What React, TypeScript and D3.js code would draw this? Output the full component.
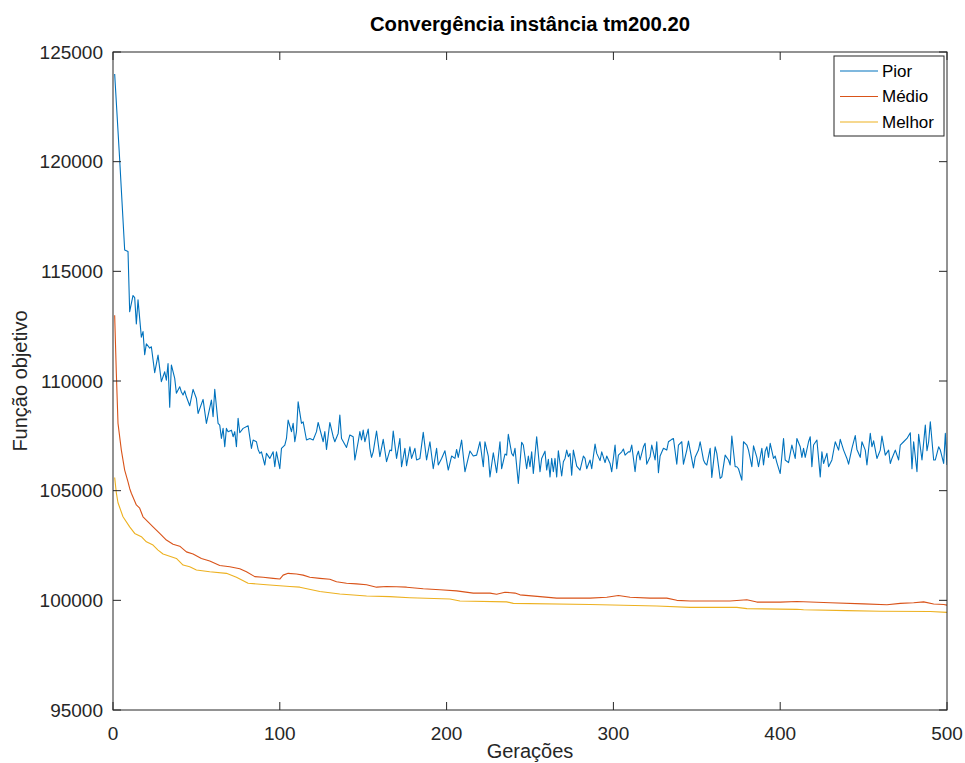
import React from "react";
import * as d3 from "d3";

// values in thousands (×1000 = função objetivo)
const pior: [number, number][] = [
  [1,124.0],[4,120.1],[7,115.97],[9,115.9],[10,113.16],[12,113.9],[13,113.8],[14,112.6],[15,113.7],[17,112.0],[18,112.25],[19,111.2],[20,111.7],[22,111.5],[23,111.56],[25,110.38],[27,111.18],[29,109.97],[31,110.42],[32,110.04],[33,110.8],[34,108.8],[35,110.73],[37,110.12],[38,109.44],[40,109.74],[41,109.5],[42,109.36],[43,109.55],[44,109.28],[46,108.87],[48,109.62],[50,109.2],[51,108.52],[54,109.16],[56,108.07],[59,109.13],[60,108.37],[61,109.62],[63,108.07],[64,107.99],[65,107.38],[66,107.84],[67,107.0],[68,107.84],[69,107.69],[71,107.76],[72,107.46],[73,107.69],[74,107.0],[75,108.3],[76,107.64],[78,107.84],[81,107.96],[83,106.93],[84,107.31],[86,107.23],[87,106.88],[88,106.7],[89,106.77],[91,106.17],[92,106.7],[94,106.47],[96,106.77],[97,106.09],[98,106.77],[100,106.0],[101,106.93],[103,107.08],[104,107.38],[105,108.22],[107,107.69],[108,108.07],[109,107.23],[110,107.69],[111,109.05],[113,108.07],[114,108.14],[116,107.31],[118,107.38],[120,107.31],[122,107.69],[123,108.11],[126,107.23],[127,107.69],[128,106.88],[130,108.11],[132,107.46],[133,107.23],[135,107.61],[136,108.45],[137,107.38],[140,106.97],[142,107.54],[144,107.46],[145,106.4],[147,107.23],[148,107.69],[149,107.31],[150,107.76],[151,107.23],[153,107.81],[154,106.93],[155,106.52],[156,106.77],[158,107.72],[160,106.55],[162,107.34],[164,106.32],[166,106.85],[167,106.82],[168,107.72],[170,106.47],[172,107.38],[173,106.09],[175,106.93],[176,106.14],[178,107.0],[179,106.47],[181,106.93],[182,106.4],[184,106.47],[186,107.66],[188,106.4],[190,107.23],[192,106.0],[194,106.93],[195,106.17],[197,106.47],[199,106.82],[201,105.94],[203,106.58],[205,106.47],[206,106.88],[207,106.52],[209,107.31],[211,105.86],[214,106.81],[216,106.58],[218,106.62],[220,107.23],[222,106.09],[223,107.23],[225,106.58],[226,105.63],[228,106.73],[230,105.82],[232,107.23],[233,106.0],[235,106.67],[236,106.62],[237,107.57],[239,106.7],[240,106.58],[241,106.93],[243,105.33],[245,107.2],[246,107.08],[248,106.0],[249,106.58],[250,106.09],[251,106.77],[252,105.78],[254,107.46],[256,105.86],[257,106.47],[259,106.8],[260,105.94],[261,106.43],[262,105.63],[263,106.47],[264,105.86],[265,106.47],[266,105.63],[267,106.82],[269,105.67],[270,106.32],[271,106.47],[272,106.85],[273,106.55],[274,106.7],[275,105.71],[276,106.85],[278,106.12],[280,105.94],[282,106.58],[283,106.47],[284,106.0],[286,106.4],[287,106.0],[289,107.12],[290,106.7],[292,106.37],[293,106.77],[295,106.28],[296,106.58],[298,106.24],[299,105.86],[301,107.08],[302,106.0],[303,106.62],[305,106.77],[306,106.9],[307,106.62],[309,106.77],[310,106.77],[311,107.08],[313,105.86],[314,106.58],[315,106.8],[316,106.4],[318,107.0],[319,107.16],[320,106.21],[322,106.55],[323,107.08],[325,106.4],[326,107.23],[327,105.82],[328,106.58],[330,106.93],[332,106.85],[333,107.23],[335,107.34],[336,107.38],[338,106.21],[339,107.08],[341,107.23],[342,106.21],[344,106.85],[345,107.26],[346,106.85],[348,106.04],[349,106.52],[351,106.85],[352,107.23],[354,106.4],[355,106.24],[356,106.17],[358,106.93],[359,105.6],[361,107.0],[362,106.7],[364,105.56],[365,105.63],[367,106.62],[369,106.4],[370,106.17],[371,107.49],[373,106.09],[374,106.09],[375,106.0],[377,105.48],[378,107.23],[380,107.08],[381,106.85],[383,106.09],[384,107.04],[386,106.52],[387,106.09],[389,106.93],[390,106.17],[391,106.8],[392,107.0],[393,106.52],[394,107.16],[396,106.47],[397,106.58],[398,106.28],[400,105.78],[402,107.38],[403,106.4],[405,106.28],[407,107.08],[409,106.47],[410,107.38],[412,107.0],[413,106.52],[414,106.93],[415,106.52],[417,107.23],[418,107.46],[419,106.09],[420,107.08],[422,107.31],[424,105.63],[425,106.77],[426,106.24],[428,106.7],[429,106.09],[431,106.4],[433,107.23],[435,106.85],[436,107.34],[438,106.85],[440,106.47],[441,106.21],[443,106.93],[445,107.51],[446,106.88],[448,106.52],[449,107.23],[451,106.85],[452,106.17],[454,107.61],[455,107.0],[456,107.27],[458,106.47],[460,106.85],[461,107.49],[463,106.62],[465,106.85],[466,106.24],[467,106.47],[469,106.85],[471,106.4],[472,107.08],[474,107.23],[476,107.38],[478,107.64],[479,106.0],[480,107.23],[482,105.86],[483,107.57],[485,106.4],[487,107.99],[488,106.82],[489,107.23],[490,108.14],[492,106.4],[493,106.4],[495,107.0],[496,106.85],[498,106.24],[499,107.61],[500,106.17]
];

const medio: [number, number][] = [
  [1,113.0],[2,110.35],[3,108.07],[5,106.85],[7,105.94],[9,105.4],[10,105.1],[11,104.88],[14,104.35],[16,104.2],[18,103.81],[21,103.58],[24,103.35],[28,103.05],[32,102.75],[36,102.56],[40,102.47],[44,102.21],[48,102.11],[53,101.91],[58,101.79],[64,101.59],[70,101.53],[76,101.44],[80,101.3],[85,101.08],[90,101.05],[96,101.0],[100,100.97],[102,101.15],[105,101.23],[110,101.2],[114,101.15],[118,101.05],[124,101.0],[130,100.96],[134,100.85],[140,100.78],[146,100.75],[152,100.71],[158,100.6],[164,100.63],[170,100.62],[176,100.6],[186,100.53],[196,100.48],[206,100.43],[216,100.33],[226,100.33],[230,100.28],[235,100.37],[241,100.33],[244,100.25],[256,100.17],[266,100.1],[278,100.1],[286,100.1],[296,100.14],[303,100.22],[310,100.14],[322,100.1],[332,100.1],[338,100.0],[346,99.97],[360,99.97],[370,99.97],[380,100.03],[386,99.92],[400,99.92],[410,99.95],[430,99.89],[450,99.84],[464,99.8],[472,99.86],[480,99.89],[486,99.93],[492,99.83],[498,99.81],[500,99.78]
];

const melhor: [number, number][] = [
  [1,105.6],[2,104.9],[3,104.45],[6,103.81],[10,103.35],[13,103.05],[17,102.9],[20,102.67],[24,102.52],[27,102.29],[30,102.11],[38,101.91],[42,101.61],[46,101.53],[50,101.38],[58,101.3],[68,101.23],[74,101.05],[81,100.78],[92,100.71],[106,100.63],[112,100.6],[124,100.4],[136,100.29],[152,100.2],[166,100.17],[178,100.12],[202,100.06],[208,99.97],[236,99.93],[240,99.86],[286,99.81],[326,99.74],[346,99.68],[374,99.68],[380,99.62],[410,99.59],[414,99.57],[440,99.53],[460,99.5],[490,99.49],[500,99.45]
];

const xTicks = [0, 100, 200, 300, 400, 500];
const yTicks = [95, 100, 105, 110, 115, 120, 125];
const seriesNames = ["Pior", "Médio", "Melhor"];
const colors = ["#0072BD", "#D95319", "#EDB120"];

export default function App() {
  const W = 965, H = 763;
  const left = 113, right = 947, top = 52, bottom = 710;
  const x = d3.scaleLinear().domain([0, 500]).range([left, right]);
  const y = d3.scaleLinear().domain([95, 125]).range([bottom, top]);
  const line = d3.line<[number, number]>().x(d => x(d[0])).y(d => y(d[1]));
  const data = [pior, medio, melhor];
  const font = "'Liberation Sans', Arial, Helvetica, sans-serif";
  const axisColor = "#262626";
  const tl = 8;

  const lx = 834, ly = 56, lw = 110, lh = 80;

  return (
    <svg width={W} height={H} style={{ position: "absolute", left: 0, top: 0, background: "#fff" }} fontFamily={font}>
      <rect x={0} y={0} width={W} height={H} fill="#fff" />
      <rect x={left} y={top} width={right - left} height={bottom - top} fill="#fff" />
      <clipPath id="clip">
        <rect x={left} y={top} width={right - left} height={bottom - top} />
      </clipPath>
      <g clipPath="url(#clip)">
        {data.map((s, i) => (
          <path key={i} d={line(s) || ""} fill="none" stroke={colors[i]} strokeWidth={1.1} strokeLinejoin="round" />
        ))}
      </g>
      {/* box */}
      <rect x={left} y={top} width={right - left} height={bottom - top} fill="none" stroke={axisColor} strokeWidth={1} />
      {xTicks.map(t => (
        <g key={"x" + t}>
          <line x1={x(t)} x2={x(t)} y1={bottom} y2={bottom - tl} stroke={axisColor} />
          <line x1={x(t)} x2={x(t)} y1={top} y2={top + tl} stroke={axisColor} />
          <text x={x(t)} y={740} textAnchor="middle" fontSize={19} fill={axisColor}>{t}</text>
        </g>
      ))}
      {yTicks.map(t => (
        <g key={"y" + t}>
          <line x1={left} x2={left + tl} y1={y(t)} y2={y(t)} stroke={axisColor} />
          <line x1={right} x2={right - tl} y1={y(t)} y2={y(t)} stroke={axisColor} />
          <text x={103} y={y(t)} dy="0.35em" textAnchor="end" fontSize={19} fill={axisColor}>{d3.format("d")(t * 1000)}</text>
        </g>
      ))}
      <text x={(left + right) / 2} y={31} textAnchor="middle" fontSize={20.3} fontWeight="bold" fill="#000">Convergência instância tm200.20</text>
      <text x={(left + right) / 2} y={758} textAnchor="middle" fontSize={20} fill={axisColor}>Gerações</text>
      <text transform={`translate(27,${(top + bottom) / 2}) rotate(-90)`} textAnchor="middle" fontSize={20} fill={axisColor}>Função objetivo</text>
      {/* legend */}
      <rect x={lx} y={ly} width={lw} height={lh} fill="#fff" stroke={axisColor} strokeWidth={1} />
      {seriesNames.map((n, i) => (
        <g key={n}>
          <line x1={lx + 6} x2={lx + 44} y1={ly + 15 + i * 25.5} y2={ly + 15 + i * 25.5} stroke={colors[i]} strokeWidth={1.1} />
          <text x={lx + 48} y={ly + 15 + i * 25.5} dy="0.35em" fontSize={17} fill="#000">{n}</text>
        </g>
      ))}
    </svg>
  );
}
